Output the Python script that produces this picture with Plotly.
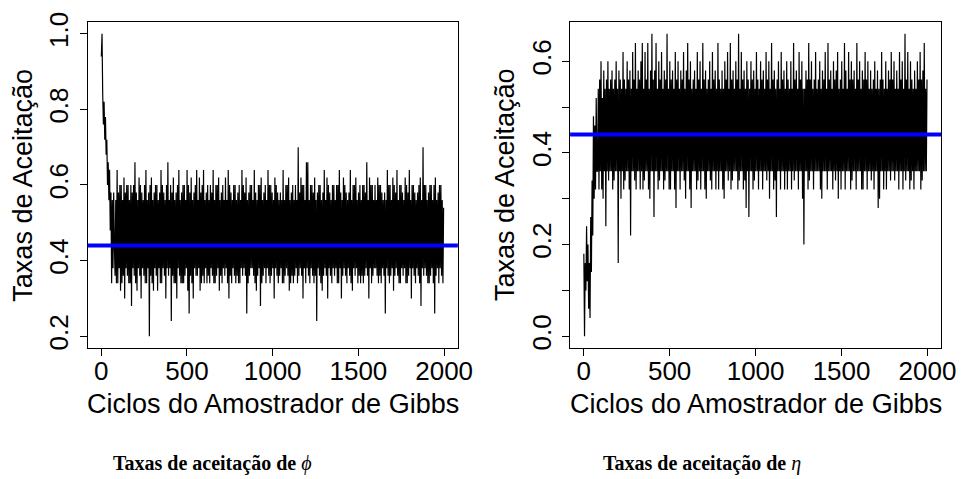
import plotly.graph_objects as go

# ---------------- data ----------------
# Gibbs cycle index (one value kept every 4 cycles)
n_cycles = 2000
iterations = list(range(1, n_cycles + 1, 4))

# acceptance rates of phi
phi_rates = [
    .94, 1.0, .84, .76, .82, .72, .78, .68, .72, .60, .66, .56, .64, .48, .58, .34, .56, .38, .58, .44,
    .36, .56, .34, .64, .34, .58, .38, .60, .32, .60, .34, .56, .36, .62, .30, .58, .38, .60, .36, .60,
    .34, .56, .34, .60, .28, .58, .38, .60, .36, .66, .34, .58, .32, .56, .38, .62, .36, .60, .30, .58,
    .38, .56, .36, .60, .34, .64, .34, .56, .38, .58, .20, .60, .36, .62, .34, .56, .32, .58, .38, .60,
    .36, .60, .32, .56, .38, .58, .34, .64, .34, .60, .38, .58, .36, .56, .30, .60, .38, .66, .36, .56,
    .38, .60, .24, .58, .36, .62, .34, .56, .34, .58, .30, .60, .38, .64, .36, .56, .34, .58, .34, .60,
    .34, .60, .36, .56, .38, .64, .32, .60, .26, .58, .36, .62, .34, .56, .30, .58, .38, .60, .36, .64,
    .36, .56, .38, .62, .32, .58, .34, .60, .36, .64, .34, .56, .38, .58, .34, .60, .36, .56, .34, .60,
    .38, .58, .36, .64, .34, .56, .34, .60, .36, .60, .38, .62, .32, .56, .36, .58, .34, .60, .38, .56,
    .36, .62, .38, .56, .34, .64, .30, .60, .36, .58, .34, .56, .38, .60, .36, .60, .34, .56, .36, .58,
    .34, .60, .34, .56, .38, .64, .36, .60, .38, .58, .36, .62, .26, .56, .34, .58, .36, .60, .38, .60,
    .38, .56, .36, .64, .34, .58, .32, .56, .36, .60, .38, .60, .28, .62, .34, .56, .36, .58, .38, .60,
    .34, .56, .38, .64, .36, .60, .34, .60, .36, .58, .38, .56, .30, .62, .38, .60, .36, .58, .34, .56,
    .36, .58, .38, .56, .34, .64, .34, .56, .36, .60, .38, .60, .36, .62, .32, .56, .34, .58, .36, .60,
    .34, .56, .36, .60, .38, .56, .34, .70, .36, .58, .38, .62, .36, .60, .30, .60, .38, .56, .34, .66,
    .38, .66, .36, .56, .34, .60, .38, .60, .36, .58, .34, .62, .36, .56, .24, .58, .38, .60, .36, .60,
    .34, .56, .32, .58, .36, .64, .38, .56, .36, .62, .30, .60, .38, .58, .36, .56, .34, .60, .38, .60,
    .36, .56, .38, .60, .34, .60, .34, .64, .38, .58, .30, .56, .36, .62, .38, .60, .36, .58, .34, .56,
    .38, .58, .36, .64, .34, .56, .32, .60, .38, .60, .36, .62, .38, .56, .34, .58, .36, .60, .34, .56,
    .36, .60, .34, .60, .36, .58, .38, .66, .36, .56, .30, .62, .38, .60, .34, .60, .36, .56, .38, .60,
    .38, .56, .36, .62, .34, .60, .36, .60, .34, .58, .38, .56, .36, .58, .26, .56, .38, .64, .36, .60,
    .34, .60, .36, .56, .38, .62, .32, .60, .36, .58, .38, .64, .36, .56, .34, .60, .34, .60, .38, .58,
    .36, .56, .38, .62, .34, .60, .34, .58, .36, .64, .38, .56, .30, .60, .38, .60, .36, .58, .34, .56,
    .38, .58, .36, .60, .34, .62, .28, .56, .38, .70, .36, .60, .38, .60, .36, .56, .34, .58, .34, .60,
    .36, .60, .38, .56, .34, .60, .26, .62, .36, .56, .38, .58, .34, .60, .38, .60, .36, .56, .34, .54,
]

# acceptance rates of eta
eta_rates = [
    .18, .00, .16, .10, .24, .12, .20, .06, .16, .04, .26, .14, .34, .22, .48, .30, .46, .32, .52, .36,
    .36, .54, .32, .56, .36, .60, .32, .52, .30, .58, .36, .54, .24, .56, .36, .60, .34, .54, .36, .56,
    .36, .58, .32, .54, .34, .56, .36, .60, .36, .54, .16, .58, .36, .56, .30, .54, .36, .62, .32, .56,
    .34, .54, .36, .60, .36, .56, .32, .58, .22, .54, .36, .62, .36, .56, .34, .64, .32, .54, .36, .58,
    .36, .56, .32, .60, .36, .64, .32, .54, .34, .62, .36, .56, .36, .64, .32, .54, .30, .58, .36, .66,
    .36, .56, .26, .58, .36, .64, .36, .54, .32, .60, .34, .56, .36, .62, .36, .54, .32, .58, .34, .56,
    .36, .66, .36, .54, .32, .60, .32, .56, .36, .58, .36, .54, .32, .62, .28, .56, .36, .60, .36, .54,
    .32, .58, .36, .56, .36, .62, .34, .54, .30, .58, .36, .64, .36, .56, .32, .60, .28, .54, .36, .56,
    .36, .58, .36, .54, .32, .62, .34, .56, .36, .60, .32, .54, .36, .64, .36, .56, .32, .58, .30, .54,
    .36, .56, .36, .60, .34, .54, .32, .62, .36, .56, .36, .58, .32, .54, .36, .64, .32, .56, .36, .54,
    .36, .58, .32, .54, .30, .60, .36, .56, .36, .62, .34, .54, .36, .64, .32, .56, .34, .58, .36, .54,
    .36, .60, .36, .56, .32, .66, .34, .54, .36, .62, .36, .56, .32, .58, .34, .54, .28, .60, .36, .56,
    .26, .54, .36, .60, .36, .56, .32, .58, .34, .54, .36, .62, .36, .56, .32, .54, .36, .60, .36, .56,
    .32, .58, .36, .54, .36, .62, .34, .56, .36, .60, .30, .54, .36, .64, .36, .56, .32, .58, .34, .54,
    .26, .56, .36, .60, .36, .54, .32, .62, .36, .56, .36, .58, .32, .54, .36, .60, .32, .56, .36, .54,
    .36, .60, .32, .54, .36, .64, .34, .56, .36, .58, .36, .54, .32, .62, .36, .56, .36, .60, .30, .54,
    .20, .54, .36, .58, .36, .56, .32, .64, .34, .56, .36, .60, .36, .54, .32, .56, .36, .62, .36, .54,
    .36, .56, .36, .60, .32, .54, .30, .58, .36, .56, .36, .62, .36, .54, .32, .64, .36, .56, .36, .58,
    .36, .54, .32, .60, .36, .56, .34, .58, .36, .62, .30, .54, .36, .56, .32, .60, .36, .54, .36, .64,
    .32, .58, .36, .54, .36, .62, .36, .56, .32, .60, .34, .56, .36, .58, .36, .54, .32, .64, .36, .56,
    .36, .60, .36, .54, .32, .58, .32, .56, .36, .62, .36, .56, .32, .60, .36, .54, .36, .58, .34, .54,
    .36, .56, .32, .60, .36, .54, .36, .58, .28, .54, .30, .56, .36, .62, .36, .56, .32, .54, .36, .60,
    .32, .54, .36, .58, .36, .56, .34, .62, .36, .56, .36, .60, .34, .54, .36, .58, .36, .54, .32, .62,
    .36, .56, .36, .60, .32, .54, .36, .66, .34, .56, .36, .62, .36, .54, .32, .60, .34, .56, .36, .54,
    .32, .58, .36, .54, .36, .60, .36, .56, .36, .62, .32, .56, .34, .58, .36, .64, .36, .54, .36, .56,
]

phi_reference = 0.44
eta_reference = 0.44

x_tick_values = [0, 500, 1000, 1500, 2000]
phi_tick_values = [0.2, 0.4, 0.6, 0.8, 1.0]
phi_tick_labels = ["0.2", "0.4", "0.6", "0.8", "1.0"]
eta_tick_values = [0.0, 0.1, 0.2, 0.3, 0.4, 0.5, 0.6]
eta_tick_labels = ["0.0", "", "0.2", "", "0.4", "", "0.6"]

x_title = "Ciclos do Amostrador de Gibbs"
y_title = "Taxas de Aceitação"
phi_caption = "<b>Taxas de aceitação de</b> <i>ϕ</i>"
eta_caption = "<b>Taxas de aceitação de</b> <i>η</i>"

# ---------------- figure ----------------
W, H = 974, 479
SANS = "Liberation Sans, Arial, Helvetica, sans-serif"
SERIF = "Liberation Serif, Times New Roman, serif"
TICK_SIZE = 26
TITLE_SIZE = 27


def r_range(lo, hi):
    pad = 0.04 * (hi - lo)
    return [lo - pad, hi + pad]


x_rng = r_range(1, n_cycles)

# plot boxes in pixels
left_box = (89, 465)
right_box = (579, 956)
box_top, box_bottom = 12, 347

fig = go.Figure()
fig.add_trace(go.Scatter(x=iterations, y=phi_rates, mode="lines",
                         line=dict(color="black", width=1.2, simplify=False),
                         xaxis="x", yaxis="y", showlegend=False, hoverinfo="skip"))
fig.add_trace(go.Scatter(x=iterations, y=eta_rates, mode="lines",
                         line=dict(color="black", width=1.2, simplify=False),
                         xaxis="x2", yaxis="y2", showlegend=False, hoverinfo="skip"))

ydom = [1 - box_bottom / H, 1 - box_top / H]

common_axis = dict(showgrid=False, zeroline=False, showline=True, mirror=True,
                   linecolor="black", linewidth=1, ticks="outside", ticklen=7,
                   tickwidth=1, tickcolor="black",
                   tickfont=dict(family=SANS, size=TICK_SIZE, color="black"))

fig.update_layout(
    width=W, height=H, autosize=False,
    margin=dict(l=0, r=0, t=0, b=0),
    paper_bgcolor="white", plot_bgcolor="white",
    xaxis=dict(domain=[left_box[0] / W, left_box[1] / W], range=x_rng,
               tickmode="array", tickvals=x_tick_values,
               ticktext=[str(v) for v in x_tick_values],
               anchor="y", ticklabelstandoff=-8, **common_axis),
    yaxis=dict(domain=ydom, range=r_range(min(phi_rates), max(phi_rates)),
               tickmode="array", tickvals=phi_tick_values, ticktext=phi_tick_labels,
               tickangle=-90, anchor="x", ticklabelstandoff=1, **common_axis),
    xaxis2=dict(domain=[right_box[0] / W, right_box[1] / W], range=x_rng,
                tickmode="array", tickvals=x_tick_values,
                ticktext=[str(v) for v in x_tick_values],
                anchor="y2", ticklabelstandoff=-8, **common_axis),
    yaxis2=dict(domain=ydom, range=r_range(min(eta_rates), max(eta_rates)),
                tickmode="array", tickvals=eta_tick_values, ticktext=eta_tick_labels,
                tickangle=-90, anchor="x2", ticklabelstandoff=1, **common_axis),
)

# reference lines
for xref, yref, val in (("x domain", "y", phi_reference), ("x2 domain", "y2", eta_reference)):
    fig.add_shape(type="line", xref=xref, yref=yref, x0=0, x1=1, y0=val, y1=val,
                  line=dict(color="#0000FF", width=4), layer="above")

# axis titles and captions
ycenter = 1 - (box_top + box_bottom) / 2 / H
for box in (left_box, right_box):
    cx = (box[0] + box[1]) / 2 / W
    fig.add_annotation(text=x_title, x=cx, y=1 - 404 / H, xref="paper", yref="paper",
                       xanchor="center", yanchor="middle", showarrow=False,
                       font=dict(family=SANS, size=TITLE_SIZE, color="black"))
    fig.add_annotation(text=y_title, x=(box[0] - 66) / W, y=ycenter, xref="paper", yref="paper",
                       xanchor="center", yanchor="middle", showarrow=False, textangle=-90,
                       font=dict(family=SANS, size=TITLE_SIZE, color="black"))

for caption, cx in ((phi_caption, 216), (eta_caption, 713)):
    fig.add_annotation(text=caption, x=cx / W, y=1 - 465 / H, xref="paper", yref="paper",
                       xanchor="center", yanchor="middle", showarrow=False,
                       font=dict(family=SERIF, size=20, color="black"))

fig.write_html("out.html")
